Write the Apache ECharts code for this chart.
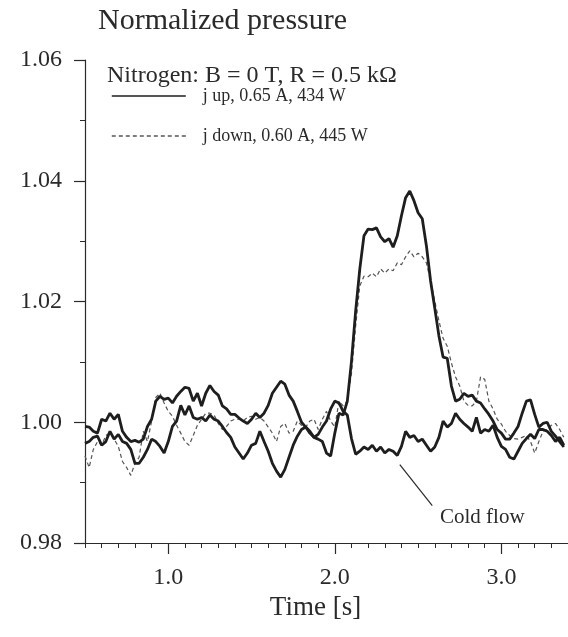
<!DOCTYPE html>
<html>
<head>
<meta charset="utf-8">
<script src="https://cdn.jsdelivr.net/npm/echarts@6/dist/echarts.min.js"></script>
<style>
html,body{margin:0;padding:0;background:#fff;}
#chart{width:568px;height:637px;}
</style>
</head>
<body>
<div id="chart"></div>
<script>
// Sample times (s)
const times = [
0.5,0.525,0.55,0.575,0.6,0.625,0.65,0.675,0.7,0.725,
0.75,0.775,0.8,0.825,0.85,0.875,0.9,0.925,0.95,0.975,
1.0,1.025,1.05,1.075,1.1,1.125,1.15,1.175,1.2,1.225,
1.25,1.275,1.3,1.325,1.35,1.375,1.4,1.425,1.45,1.475,
1.5,1.525,1.55,1.575,1.6,1.625,1.65,1.675,1.7,1.725,
1.75,1.775,1.8,1.825,1.85,1.875,1.9,1.925,1.95,1.975,
2.0,2.025,2.05,2.075,2.1,2.125,2.15,2.175,2.2,2.225,
2.25,2.275,2.3,2.325,2.35,2.375,2.4,2.425,2.45,2.475,
2.5,2.525,2.55,2.575,2.6,2.625,2.65,2.675,2.7,2.725,
2.75,2.775,2.8,2.825,2.85,2.875,2.9,2.925,2.95,2.975,
3.0,3.025,3.05,3.075,3.1,3.125,3.15,3.175,3.2,3.225,
3.25,3.275,3.3,3.325,3.35,3.375
];

// j up, 0.65 A, 434 W (solid)
const jUp = [
0.9993,0.9992,0.9985,0.9982,1.0005,1.0002,1.0015,1.0005,1.0013,0.9985,
0.9975,0.9968,0.9970,0.9967,0.9972,0.9993,1.0005,1.0035,1.0043,1.0038,
1.0040,1.0032,1.0043,1.0051,1.0058,1.0056,1.0035,1.0048,1.0027,1.0048,
1.0061,1.0051,1.0045,1.0027,1.0022,1.0013,1.0013,1.0007,1.0002,0.9998,
1.0005,1.0015,1.0008,1.0015,1.0028,1.0048,1.0058,1.0068,1.0063,1.0045,
1.0035,1.0018,1.0000,0.9992,0.9985,0.9975,0.9972,0.9968,0.9949,0.9944,
0.9982,1.0015,1.0012,1.0035,1.0101,1.0184,1.0254,1.0309,1.0320,1.0319,
1.0322,1.0307,1.0299,1.0304,1.0290,1.0309,1.0342,1.0372,1.0383,1.0367,
1.0347,1.0337,1.0292,1.0234,1.0189,1.0143,1.0108,1.0106,1.0060,1.0035,
1.0038,1.0048,1.0043,1.0045,1.0035,1.0032,1.0022,1.0013,1.0002,0.9988,
0.9982,0.9972,0.9972,0.9982,0.9993,1.0015,1.0035,1.0037,1.0013,0.9992,
0.9998,1.0000,0.9985,0.9977,0.9968,0.9959
];

// j down, 0.60 A, 445 W (dashed)
const jDown = [
0.9944,0.9925,0.9955,0.9968,0.9962,0.9978,0.9982,0.9972,0.9960,0.9935,
0.9925,0.9912,0.9932,0.9942,0.9985,0.9968,1.0002,1.0041,1.0048,1.0032,
1.0018,1.0010,0.9995,0.9982,0.9968,0.9962,0.9978,0.9995,1.0005,1.0015,
1.0015,1.0012,0.9998,0.9988,0.9993,1.0002,1.0005,1.0005,1.0002,1.0008,
1.0010,1.0005,1.0008,1.0002,0.9992,0.9982,0.9968,0.9993,0.9998,0.9982,
0.9985,1.0002,0.9995,0.9992,1.0002,1.0005,0.9988,1.0005,1.0018,1.0002,
0.9992,1.0035,1.0027,1.0035,1.0081,1.0159,1.0226,1.0242,1.0241,1.0247,
1.0241,1.0254,1.0247,1.0254,1.0251,1.0264,1.0261,1.0274,1.0284,1.0274,
1.0280,1.0274,1.0264,1.0234,1.0201,1.0168,1.0139,1.0126,1.0098,1.0075,
1.0060,1.0035,1.0028,1.0027,1.0035,1.0075,1.0071,1.0035,1.0022,1.0005,
0.9997,0.9985,0.9978,0.9973,0.9972,0.9975,0.9978,0.9968,0.9949,0.9968,
0.9985,0.9988,0.9995,0.9998,0.9988,0.9975
];

// Cold flow (solid)
const coldFlow = [
0.9965,0.9968,0.9975,0.9977,0.9962,0.9968,0.9985,0.9972,0.9980,0.9968,
0.9965,0.9955,0.9932,0.9932,0.9942,0.9955,0.9972,0.9968,0.9960,0.9949,
0.9968,0.9993,1.0002,1.0028,1.0012,1.0027,1.0008,1.0005,1.0008,1.0002,
1.0012,1.0005,1.0002,0.9993,0.9983,0.9975,0.9959,0.9949,0.9939,0.9949,
0.9962,0.9965,0.9985,0.9968,0.9952,0.9932,0.9919,0.9909,0.9922,0.9942,
0.9962,0.9977,0.9988,0.9992,0.9982,0.9975,0.9980,0.9992,1.0002,1.0022,
1.0035,1.0032,1.0018,1.0012,0.9973,0.9947,0.9952,0.9959,0.9955,0.9962,
0.9952,0.9959,0.9949,0.9955,0.9952,0.9945,0.9960,0.9985,0.9975,0.9978,
0.9968,0.9972,0.9962,0.9952,0.9959,0.9975,1.0002,0.9992,0.9998,1.0015,
1.0005,0.9998,0.9992,0.9985,1.0008,0.9982,0.9988,0.9985,0.9995,0.9975,
0.9960,0.9955,0.9942,0.9939,0.9952,0.9965,0.9973,0.9980,0.9973,0.9988,
0.9988,0.9985,0.9978,0.9968,0.9975,0.9962
];

const seriesNames = ['j up, 0.65 A, 434 W', 'j down, 0.60 A, 445 W', 'Cold flow'];
const xMajorTicks = [1.0, 2.0, 3.0];
const coldFlowPointer = [[2.39, 0.9930], [2.585, 0.9862]];

const serif = '"Liberation Serif", "DejaVu Serif", "Times New Roman", serif';
const ink = '#2a2a2a';
const pair = (arr) => times.map((t, i) => [t, arr[i]]);

const chart = echarts.init(document.getElementById('chart'), null, {renderer: 'canvas'});
chart.setOption({
  backgroundColor: '#ffffff',
  animation: false,
  title: {
    text: 'Normalized pressure',
    left: 93, top: 1,
    textStyle: {fontFamily: serif, fontSize: 30, fontWeight: 'normal', color: ink}
  },
  legend: {
    data: [seriesNames[0], seriesNames[1]],
    orient: 'vertical',
    left: 106, top: 82,
    itemWidth: 74, itemHeight: 14, itemGap: 22,
    lineStyle: {width: 1.6},
    itemStyle: {color: 'rgba(0,0,0,0)', borderWidth: 0, opacity: 0},
    textStyle: {fontFamily: serif, fontSize: 18, color: ink, padding: [0, 0, 0, 12]}
  },
  grid: {left: 85, right: 0, top: 60, bottom: 94, containLabel: false},
  xAxis: [{
    type: 'value', min: 0.5, max: 3.4, interval: 0.1,
    axisLine: {show: true, lineStyle: {color: ink, width: 1.2}},
    axisTick: {show: true, length: 5, lineStyle: {color: ink, width: 1}},
    axisLabel: {show: false},
    splitLine: {show: false}
  }, {
    type: 'value', min: 0.5, max: 3.4, position: 'bottom',
    axisLine: {show: false},
    axisTick: {show: true, length: 11, customValues: xMajorTicks, lineStyle: {color: ink, width: 1.2}},
    axisLabel: {show: true, customValues: xMajorTicks, margin: 23, fontFamily: serif, fontSize: 24, color: ink,
      formatter: v => v.toFixed(1)},
    splitLine: {show: false},
    name: 'Time [s]', nameLocation: 'middle', nameGap: 49,
    nameTextStyle: {fontFamily: serif, fontSize: 27, color: ink, padding: [0, 22, 0, 0]}
  }],
  yAxis: {
    type: 'value', min: 0.98, max: 1.06, interval: 0.02,
    axisLine: {show: true, lineStyle: {color: ink, width: 1.2}},
    axisTick: {show: true, length: 11, lineStyle: {color: ink, width: 1.2}},
    minorTick: {show: true, splitNumber: 2, length: 5, lineStyle: {color: ink, width: 1}},
    axisLabel: {margin: 23, fontFamily: serif, fontSize: 24, color: ink, formatter: v => v.toFixed(2)},
    splitLine: {show: false}
  },
  series: [{
    name: seriesNames[0], type: 'line', xAxisIndex: 0, data: pair(jUp),
    showSymbol: false, symbol: 'none',
    lineStyle: {color: '#1e1e1e', width: 2.8},
    itemStyle: {color: '#1e1e1e'}, z: 3
  }, {
    name: seriesNames[1], type: 'line', xAxisIndex: 0, data: pair(jDown),
    showSymbol: false, symbol: 'none',
    lineStyle: {color: '#555555', width: 1.2, type: [4, 3]},
    itemStyle: {color: '#555555'}, z: 2
  }, {
    name: seriesNames[2], type: 'line', xAxisIndex: 0, data: pair(coldFlow),
    showSymbol: false, symbol: 'none',
    lineStyle: {color: '#1e1e1e', width: 2.8},
    itemStyle: {color: '#1e1e1e'}, z: 3,
    markLine: {
      silent: true, symbol: ['none', 'none'],
      lineStyle: {color: ink, width: 1.2, type: 'solid'},
      label: {show: false},
      data: [[{coord: coldFlowPointer[0]}, {coord: coldFlowPointer[1]}]]
    }
  }],
  graphic: [{
    type: 'text', left: 107, top: 64,
    style: {text: 'Nitrogen: B = 0 T, R = 0.5 kΩ', font: '24px ' + serif, fill: ink}
  }, {
    type: 'text', left: 440, top: 507,
    style: {text: 'Cold flow', font: '21px ' + serif, fill: ink}
  }]
});
</script>
</body>
</html>
